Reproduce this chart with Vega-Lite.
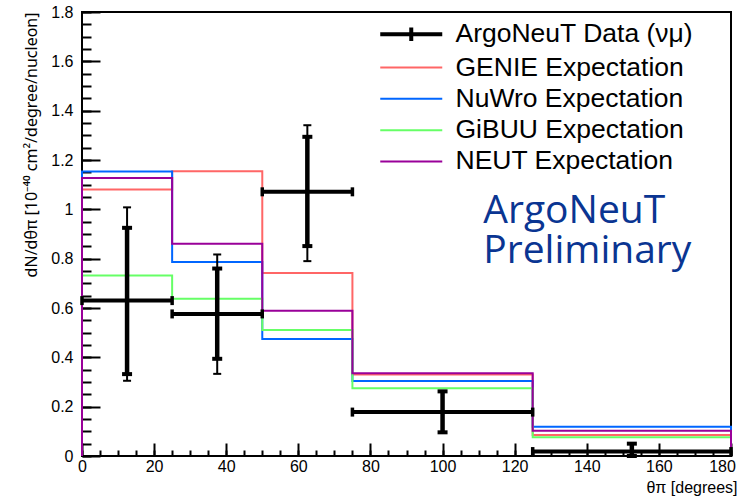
{
  "$schema": "https://vega.github.io/schema/vega-lite/v6.json",
  "width": 649,
  "height": 444,
  "autosize": {"type": "none"},
  "padding": {"left": 82, "top": 12, "right": 13, "bottom": 42},
  "background": "white",
  "config": {
    "view": {"stroke": "black", "strokeWidth": 2},
    "font": "Liberation Sans",
    "axis": {
      "domain": false,
      "ticks": true,
      "tickColor": "black", "tickWidth": 2, "tickOpacity": 1,
      "labelColor": "black", "labelFont": "Liberation Sans", "labelFontSize": 16,
      "titleFont": "Liberation Sans", "titleFontWeight": "normal", "titleColor": "black",
      "grid": false,
      "zindex": 1
    },
    "legend": {
      "orient": "none",
      "legendX": 316,
      "legendY": 9,
      "padding": 0,
      "symbolType": "stroke",
      "symbolSize": 3844,
      "symbolStrokeWidth": 2,
      "labelFont": "Liberation Sans",
      "labelFontSize": 26.5,
      "labelColor": "black",
      "labelOffset": 31,
      "labelLimit": 400,
      "rowPadding": 4.3,
      "title": null
    }
  },
  "datasets": {
    "models": [
      {"series": "GENIE Expectation", "i": 0, "x": 0, "y": 0},
      {"series": "GENIE Expectation", "i": 1, "x": 0, "y": 1.08},
      {"series": "GENIE Expectation", "i": 2, "x": 25, "y": 1.154},
      {"series": "GENIE Expectation", "i": 3, "x": 50, "y": 0.742},
      {"series": "GENIE Expectation", "i": 4, "x": 75, "y": 0.33},
      {"series": "GENIE Expectation", "i": 5, "x": 125, "y": 0.085},
      {"series": "GENIE Expectation", "i": 6, "x": 180, "y": 0.085},
      {"series": "GENIE Expectation", "i": 7, "x": 180, "y": 0},
      {"series": "NuWro Expectation", "i": 0, "x": 0, "y": 0},
      {"series": "NuWro Expectation", "i": 1, "x": 0, "y": 1.153},
      {"series": "NuWro Expectation", "i": 2, "x": 25, "y": 0.786},
      {"series": "NuWro Expectation", "i": 3, "x": 50, "y": 0.474},
      {"series": "NuWro Expectation", "i": 4, "x": 75, "y": 0.304},
      {"series": "NuWro Expectation", "i": 5, "x": 125, "y": 0.119},
      {"series": "NuWro Expectation", "i": 6, "x": 180, "y": 0.119},
      {"series": "NuWro Expectation", "i": 7, "x": 180, "y": 0},
      {"series": "GiBUU Expectation", "i": 0, "x": 0, "y": 0},
      {"series": "GiBUU Expectation", "i": 1, "x": 0, "y": 0.732},
      {"series": "GiBUU Expectation", "i": 2, "x": 25, "y": 0.638},
      {"series": "GiBUU Expectation", "i": 3, "x": 50, "y": 0.511},
      {"series": "GiBUU Expectation", "i": 4, "x": 75, "y": 0.275},
      {"series": "GiBUU Expectation", "i": 5, "x": 125, "y": 0.076},
      {"series": "GiBUU Expectation", "i": 6, "x": 180, "y": 0.076},
      {"series": "GiBUU Expectation", "i": 7, "x": 180, "y": 0},
      {"series": "NEUT Expectation", "i": 0, "x": 0, "y": 0},
      {"series": "NEUT Expectation", "i": 1, "x": 0, "y": 1.127},
      {"series": "NEUT Expectation", "i": 2, "x": 25, "y": 0.86},
      {"series": "NEUT Expectation", "i": 3, "x": 50, "y": 0.589},
      {"series": "NEUT Expectation", "i": 4, "x": 75, "y": 0.335},
      {"series": "NEUT Expectation", "i": 5, "x": 125, "y": 0.102},
      {"series": "NEUT Expectation", "i": 6, "x": 180, "y": 0.102},
      {"series": "NEUT Expectation", "i": 7, "x": 180, "y": 0}
    ],
    "points": [
      {"x": 12.5, "xlo": 0, "xhi": 25, "y": 0.63, "slo": 0.332, "shi": 0.925, "tlo": 0.305, "thi": 1.008},
      {"x": 37.5, "xlo": 25, "xhi": 50, "y": 0.576, "slo": 0.394, "shi": 0.76, "tlo": 0.333, "thi": 0.817},
      {"x": 62.5, "xlo": 50, "xhi": 75, "y": 1.071, "slo": 0.851, "shi": 1.294, "tlo": 0.79, "thi": 1.341},
      {"x": 100, "xlo": 75, "xhi": 125, "y": 0.178, "slo": 0.096, "shi": 0.262, "tlo": 0.096, "thi": 0.262},
      {"x": 152.5, "xlo": 125, "xhi": 180, "y": 0.018, "slo": 0, "shi": 0.05, "tlo": 0, "thi": 0.05}
    ],
    "note": [{"label": "ArgoNeuT Preliminary"}]
  },
  "layer": [
    {
      "layer": [
        {
          "data": {"name": "models"},
          "mark": {"type": "line", "interpolate": "step-after", "strokeWidth": 2, "clip": false},
          "encoding": {
            "x": {"field": "x", "type": "quantitative", "scale": {"domain": [0, 180], "nice": false},
              "axis": {"orient": "bottom", "values": [0, 20, 40, 60, 80, 100, 120, 140, 160, 180], "offset": -13, "ticks": true, "tickSize": 13, "tickColor": "black", "tickWidth": 2, "labelPadding": 2,
                "labelFlush": false,
                "labelOffset": {"condition": {"test": "datum.value === 180", "value": -9}, "value": 0},
                "title": "θπ [degrees]", "titleAnchor": "end", "titleAlign": "right", "titleX": 655, "titleFontSize": 16, "titlePadding": 5}},
            "y": {"field": "y", "type": "quantitative", "scale": {"domain": [0, 1.8], "nice": false},
              "axis": {"orient": "left", "values": [0, 0.2, 0.4, 0.6, 0.8, 1, 1.2, 1.4, 1.6, 1.8], "offset": -18, "ticks": true, "tickSize": 18, "tickColor": "black", "tickWidth": 2, "labelPadding": 9,
                "labelExpr": "toString(round(datum.value*10)/10)",
                "title": "dN/dθπ [10⁻⁴⁰ cm²/degree/nucleon]", "titleFont": "Noto Sans", "titleAnchor": "end", "titleFontSize": 16, "titlePadding": 11}},
            "color": {"field": "series", "type": "nominal",
              "scale": {"domain": ["ArgoNeuT Data (νμ)", "GENIE Expectation", "NuWro Expectation", "GiBUU Expectation", "NEUT Expectation"],
                        "range": ["#000000", "#ff6666", "#0066ff", "#66ff66", "#990099"]},
              "legend": {
                "encode": {
                  "symbols": {"update": {
                    "shape": {"signal": "datum.value === 'ArgoNeuT Data (νμ)' ? 'M-1,0H1M0,-0.22V0.22' : 'stroke'"},
                    "strokeWidth": {"signal": "datum.value === 'ArgoNeuT Data (νμ)' ? 4 : 2"}
                  }}
                }
              }},
            "order": {"field": "i", "type": "quantitative"}
          }
        },
        {
          "data": {"name": "points"},
          "mark": {"type": "rule", "color": "black", "strokeWidth": 2},
          "encoding": {
            "x": {"field": "x", "type": "quantitative"},
            "y": {"field": "tlo", "type": "quantitative"},
            "y2": {"field": "thi"}
          }
        },
        {
          "data": {"name": "points"},
          "mark": {"type": "tick", "color": "black", "orient": "horizontal", "size": 8, "thickness": 2, "opacity": 1},
          "encoding": {
            "x": {"field": "x", "type": "quantitative"},
            "y": {"field": "thi", "type": "quantitative"}
          }
        },
        {
          "data": {"name": "points"},
          "mark": {"type": "tick", "color": "black", "orient": "horizontal", "size": 8, "thickness": 2, "opacity": 1},
          "encoding": {
            "x": {"field": "x", "type": "quantitative"},
            "y": {"field": "tlo", "type": "quantitative"}
          }
        },
        {
          "data": {"name": "points"},
          "mark": {"type": "rule", "color": "black", "strokeWidth": 4.5},
          "encoding": {
            "x": {"field": "x", "type": "quantitative"},
            "y": {"field": "slo", "type": "quantitative"},
            "y2": {"field": "shi"}
          }
        },
        {
          "data": {"name": "points"},
          "mark": {"type": "tick", "color": "black", "orient": "horizontal", "size": 10, "thickness": 4, "opacity": 1},
          "encoding": {
            "x": {"field": "x", "type": "quantitative"},
            "y": {"field": "shi", "type": "quantitative"}
          }
        },
        {
          "data": {"name": "points"},
          "mark": {"type": "tick", "color": "black", "orient": "horizontal", "size": 10, "thickness": 4, "opacity": 1},
          "encoding": {
            "x": {"field": "x", "type": "quantitative"},
            "y": {"field": "slo", "type": "quantitative"}
          }
        },
        {
          "data": {"name": "points"},
          "mark": {"type": "rule", "color": "black", "strokeWidth": 4},
          "encoding": {
            "x": {"field": "xlo", "type": "quantitative"},
            "x2": {"field": "xhi"},
            "y": {"field": "y", "type": "quantitative"}
          }
        },
        {
          "data": {"name": "points"},
          "mark": {"type": "tick", "color": "black", "orient": "vertical", "size": 9, "thickness": 3.5, "opacity": 1},
          "encoding": {
            "x": {"field": "xlo", "type": "quantitative"},
            "y": {"field": "y", "type": "quantitative"}
          }
        },
        {
          "data": {"name": "points"},
          "mark": {"type": "tick", "color": "black", "orient": "vertical", "size": 9, "thickness": 3.5, "opacity": 1},
          "encoding": {
            "x": {"field": "xhi", "type": "quantitative"},
            "y": {"field": "y", "type": "quantitative"}
          }
        },
        {
          "data": {"name": "note"},
          "mark": {"type": "text", "text": ["ArgoNeuT", "Preliminary"], "font": "Open Sans", "fontSize": 39, "color": "#0a3592",
                   "align": "left", "baseline": "alphabetic", "lineHeight": 40},
          "encoding": {
            "x": {"datum": 111.3, "type": "quantitative"},
            "y": {"datum": 0.943, "type": "quantitative"}
          }
        }
      ]
    },
    {
      "data": {"name": "points"},
      "mark": {"type": "point", "opacity": 0},
      "encoding": {
        "x": {"field": "x", "type": "quantitative", "scale": {"domain": [0, 180], "nice": false},
          "axis": {"orient": "bottom", "values": [0, 5, 10, 15, 20, 25, 30, 35, 40, 45, 50, 55, 60, 65, 70, 75, 80, 85, 90, 95, 100, 105, 110, 115, 120, 125, 130, 135, 140, 145, 150, 155, 160, 165, 170, 175, 180],
            "offset": -6, "ticks": true, "tickSize": 6, "tickColor": "black", "tickWidth": 2, "labels": false, "title": null}},
        "y": {"field": "y", "type": "quantitative", "scale": {"domain": [0, 1.8], "nice": false},
          "axis": {"orient": "left", "values": [0, 0.05, 0.1, 0.15, 0.2, 0.25, 0.3, 0.35, 0.4, 0.45, 0.5, 0.55, 0.6, 0.65, 0.7, 0.75, 0.8, 0.85, 0.9, 0.95, 1, 1.05, 1.1, 1.15, 1.2, 1.25, 1.3, 1.35, 1.4, 1.45, 1.5, 1.55, 1.6, 1.65, 1.7, 1.75, 1.8],
            "offset": -9, "ticks": true, "tickSize": 9, "tickColor": "black", "tickWidth": 2, "labels": false, "title": null}}
      }
    }
  ],
  "resolve": {"axis": {"x": "independent", "y": "independent"}}
}
